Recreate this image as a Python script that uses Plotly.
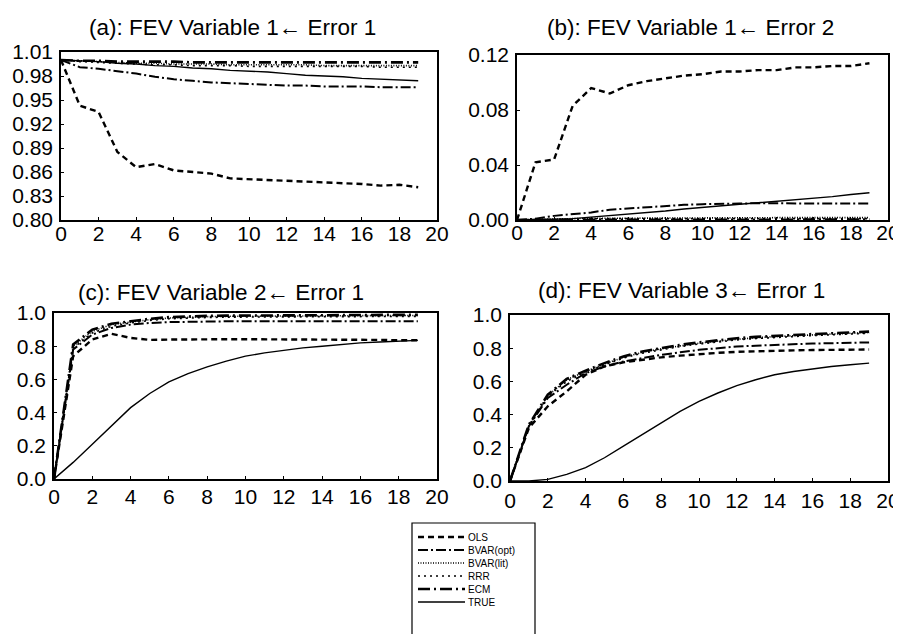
import plotly.graph_objects as go

# ---------------- data ----------------
horizon = list(range(20))
models = ["OLS", "BVAR(opt)", "BVAR(lit)", "RRR", "ECM", "TRUE"]

panel_titles = ["(a): FEV Variable 1\u2190 Error 1", "(b): FEV Variable 1\u2190 Error 2",
                "(c): FEV Variable 2\u2190 Error 1", "(d): FEV Variable 3\u2190 Error 1"]

# panel (a)
a_ols = [1.000, 0.943, 0.935, 0.885, 0.866, 0.870, 0.862, 0.860, 0.858, 0.852, 0.851, 0.850, 0.849, 0.848, 0.847, 0.846, 0.845, 0.843, 0.844, 0.841]
a_bvar_opt = [1.000, 0.991, 0.989, 0.986, 0.983, 0.979, 0.976, 0.974, 0.972, 0.971, 0.970, 0.969, 0.968, 0.968, 0.967, 0.967, 0.967, 0.966, 0.966, 0.966]
a_bvar_lit = [1.000, 0.999, 0.998, 0.997, 0.996, 0.996, 0.995, 0.995, 0.995, 0.994, 0.994, 0.994, 0.994, 0.994, 0.993, 0.993, 0.993, 0.993, 0.993, 0.993]
a_rrr = [1.000, 0.998, 0.997, 0.996, 0.995, 0.994, 0.994, 0.993, 0.993, 0.993, 0.992, 0.992, 0.992, 0.992, 0.992, 0.992, 0.992, 0.991, 0.991, 0.991]
a_ecm = [1.000, 0.999, 0.999, 0.998, 0.998, 0.998, 0.998, 0.997, 0.997, 0.997, 0.997, 0.997, 0.997, 0.997, 0.997, 0.997, 0.997, 0.997, 0.997, 0.997]
a_true = [1.000, 0.999, 0.998, 0.996, 0.995, 0.993, 0.992, 0.990, 0.989, 0.987, 0.986, 0.985, 0.983, 0.981, 0.980, 0.979, 0.977, 0.976, 0.975, 0.974]

# panel (b)
b_ols = [0.000, 0.042, 0.044, 0.083, 0.096, 0.092, 0.098, 0.101, 0.103, 0.105, 0.106, 0.108, 0.108, 0.109, 0.109, 0.111, 0.111, 0.112, 0.112, 0.114]
b_bvar_opt = [0.000, 0.001, 0.003, 0.004, 0.0055, 0.0075, 0.0085, 0.0095, 0.0105, 0.011, 0.0115, 0.012, 0.012, 0.0122, 0.0123, 0.0122, 0.012, 0.012, 0.012, 0.012]
b_bvar_lit = [0.000, 0.0005, 0.001, 0.001, 0.0012, 0.0013, 0.0014, 0.0015, 0.0015, 0.0016, 0.0016, 0.0016, 0.0017, 0.0017, 0.0017, 0.0017, 0.0017, 0.0017, 0.0017, 0.0017]
b_rrr = [0.000, 0.0003, 0.0006, 0.0008, 0.0009, 0.001, 0.001, 0.001, 0.001, 0.001, 0.001, 0.001, 0.001, 0.001, 0.001, 0.001, 0.001, 0.001, 0.001, 0.001]
b_ecm = [0.000, 0.000, 0.0001, 0.0001, 0.0002, 0.0002, 0.0002, 0.0003, 0.0003, 0.0003, 0.0003, 0.0003, 0.0003, 0.0003, 0.0003, 0.0003, 0.0003, 0.0003, 0.0003, 0.0003]
b_true = [0.000, 0.000, 0.0005, 0.001, 0.002, 0.003, 0.004, 0.005, 0.0065, 0.008, 0.0093, 0.0105, 0.0115, 0.0125, 0.0135, 0.015, 0.016, 0.017, 0.0185, 0.0198]

# panel (c)
c_ols = [0.0, 0.74, 0.84, 0.875, 0.85, 0.838, 0.84, 0.842, 0.842, 0.842, 0.842, 0.842, 0.842, 0.842, 0.842, 0.842, 0.84, 0.838, 0.836, 0.836]
c_bvar_opt = [0.0, 0.78, 0.87, 0.91, 0.93, 0.94, 0.945, 0.948, 0.95, 0.95, 0.95, 0.95, 0.95, 0.95, 0.95, 0.95, 0.95, 0.95, 0.95, 0.95]
c_bvar_lit = [0.0, 0.80, 0.89, 0.93, 0.945, 0.96, 0.97, 0.975, 0.978, 0.98, 0.981, 0.982, 0.982, 0.983, 0.983, 0.984, 0.984, 0.984, 0.985, 0.985]
c_rrr = [0.0, 0.79, 0.88, 0.92, 0.94, 0.955, 0.965, 0.97, 0.973, 0.975, 0.976, 0.977, 0.977, 0.978, 0.978, 0.978, 0.979, 0.979, 0.979, 0.98]
c_ecm = [0.0, 0.81, 0.90, 0.935, 0.95, 0.965, 0.975, 0.98, 0.983, 0.984, 0.985, 0.986, 0.986, 0.987, 0.987, 0.988, 0.988, 0.988, 0.989, 0.989]
c_true = [0.0, 0.10, 0.21, 0.32, 0.43, 0.515, 0.585, 0.635, 0.675, 0.71, 0.74, 0.76, 0.775, 0.79, 0.80, 0.81, 0.82, 0.825, 0.83, 0.835]

# panel (d)
d_ols = [0.0, 0.32, 0.45, 0.54, 0.64, 0.69, 0.715, 0.73, 0.745, 0.755, 0.765, 0.772, 0.778, 0.782, 0.785, 0.787, 0.789, 0.79, 0.791, 0.792]
d_bvar_opt = [0.0, 0.33, 0.50, 0.58, 0.65, 0.69, 0.72, 0.74, 0.76, 0.775, 0.79, 0.80, 0.81, 0.815, 0.82, 0.825, 0.828, 0.83, 0.833, 0.835]
d_bvar_lit = [0.0, 0.335, 0.515, 0.61, 0.66, 0.705, 0.745, 0.775, 0.797, 0.815, 0.83, 0.843, 0.855, 0.863, 0.87, 0.876, 0.881, 0.886, 0.89, 0.895]
d_rrr = [0.0, 0.33, 0.51, 0.60, 0.655, 0.70, 0.74, 0.77, 0.79, 0.81, 0.825, 0.838, 0.85, 0.858, 0.865, 0.871, 0.876, 0.881, 0.886, 0.89]
d_ecm = [0.0, 0.34, 0.52, 0.615, 0.665, 0.71, 0.75, 0.78, 0.80, 0.82, 0.835, 0.848, 0.86, 0.868, 0.875, 0.88, 0.885, 0.89, 0.895, 0.90]
d_true = [0.0, 0.0, 0.01, 0.04, 0.08, 0.14, 0.21, 0.28, 0.35, 0.42, 0.48, 0.53, 0.575, 0.61, 0.64, 0.66, 0.675, 0.69, 0.70, 0.71]

x_ticks = list(range(0, 21, 2))
a_yticks = [0.80, 0.83, 0.86, 0.89, 0.92, 0.95, 0.98, 1.01]
b_yticks = [0.00, 0.04, 0.08, 0.12]
cd_yticks = [0.0, 0.2, 0.4, 0.6, 0.8, 1.0]

# ---------------- styling ----------------
OFF = 8                      # default page margin of the html body
W, H = 901 - OFF, 634 - OFF  # figure size that fills the visible window
FONT = "Liberation Sans, Arial, sans-serif"


def fx(px):
    return (px - OFF) / W


def fy(py):
    return 1 - (py - OFF) / H


styles = {
    "OLS": dict(dash="6px,4px", width=2.4),
    "BVAR(opt)": dict(dash="10px,3px,2px,3px", width=2.0),
    "BVAR(lit)": dict(dash="1px,1.5px", width=1.6),
    "RRR": dict(dash="2px,4px", width=1.6),
    "ECM": dict(dash="12px,4px,2px,4px", width=2.6),
    "TRUE": dict(dash="solid", width=1.4),
}

panels = [
    dict(data=[a_ols, a_bvar_opt, a_bvar_lit, a_rrr, a_ecm, a_true], yr=[0.80, 1.01], yt=a_yticks, fmt=".2f",
         px=(61, 437), py=(52, 220), title=(232, 27), xso=-6),
    dict(data=[b_ols, b_bvar_opt, b_bvar_lit, b_rrr, b_ecm, b_true], yr=[0.0, 0.12], yt=b_yticks, fmt=".2f",
         px=(517, 888), py=(55, 220), title=(690, 27), xso=-7),
    dict(data=[c_ols, c_bvar_opt, c_bvar_lit, c_rrr, c_ecm, c_true], yr=[0.0, 1.0], yt=cd_yticks, fmt=".1f",
         px=(54, 437), py=(313, 479), title=(221, 292), xso=-2),
    dict(data=[d_ols, d_bvar_opt, d_bvar_lit, d_rrr, d_ecm, d_true], yr=[0.0, 1.0], yt=cd_yticks, fmt=".1f",
         px=(510, 888), py=(315, 481), title=(681, 290), xso=0),
]

fig = go.Figure()
layout = dict(width=W, height=H, margin=dict(l=0, r=0, t=0, b=0, autoexpand=False),
              paper_bgcolor="white", plot_bgcolor="white", showlegend=False,
              font=dict(family=FONT, color="black"))
annotations = []
for i, p in enumerate(panels):
    k = "" if i == 0 else str(i + 1)
    for name, ys in zip(models, p["data"]):
        st = styles[name]
        fig.add_trace(go.Scatter(x=horizon, y=ys, mode="lines", name=name,
                                 line=dict(color="black", dash=st["dash"], width=st["width"]),
                                 xaxis="x" + k, yaxis="y" + k, showlegend=False))
    common = dict(showline=True, linecolor="black", linewidth=1.5, mirror=True, showgrid=False,
                  zeroline=False, ticks="inside", ticklen=3, tickcolor="black", automargin=False,
                  tickfont=dict(family=FONT, size=21, color="black"))
    layout["xaxis" + k] = dict(domain=[fx(p["px"][0]), fx(p["px"][1])], range=[0, 20],
                               tickvals=x_ticks, anchor="y" + k, ticklabelstandoff=p["xso"], **common)
    layout["yaxis" + k] = dict(domain=[fy(p["py"][1]), fy(p["py"][0])], range=p["yr"],
                               tickvals=p["yt"], tickformat=p["fmt"], anchor="x" + k,
                               ticklabelstandoff=2, **common)
    annotations.append(dict(text=panel_titles[i], x=fx(p["title"][0]), y=fy(p["title"][1]),
                            xref="paper", yref="paper", xanchor="center", yanchor="middle",
                            showarrow=False, font=dict(family=FONT, size=22.5, color="black")))

# ---------------- legend (drawn manually for tight spacing) ----------------
shapes = [dict(type="rect", xref="paper", yref="paper", x0=fx(412), x1=fx(535),
               y0=fy(650), y1=fy(523), line=dict(color="black", width=1.2),
               fillcolor="rgba(0,0,0,0)")]
leg_top, leg_step = 537, 13
for j, name in enumerate(models):
    st = styles[name]
    yy = leg_top + j * leg_step
    shapes.append(dict(type="line", xref="paper", yref="paper", x0=fx(418), x1=fx(465),
                       y0=fy(yy), y1=fy(yy),
                       line=dict(color="black", dash=st["dash"], width=st["width"])))
annotations.append(dict(text="<br>".join(models), x=fx(467), y=fy(leg_top - 6.5),
                        xref="paper", yref="paper", xanchor="left", yanchor="top", align="left",
                        showarrow=False, borderpad=0,
                        font=dict(family=FONT, size=10, color="black")))

layout["annotations"] = annotations
layout["shapes"] = shapes
fig.update_layout(**layout)
fig.write_html("out.html")
